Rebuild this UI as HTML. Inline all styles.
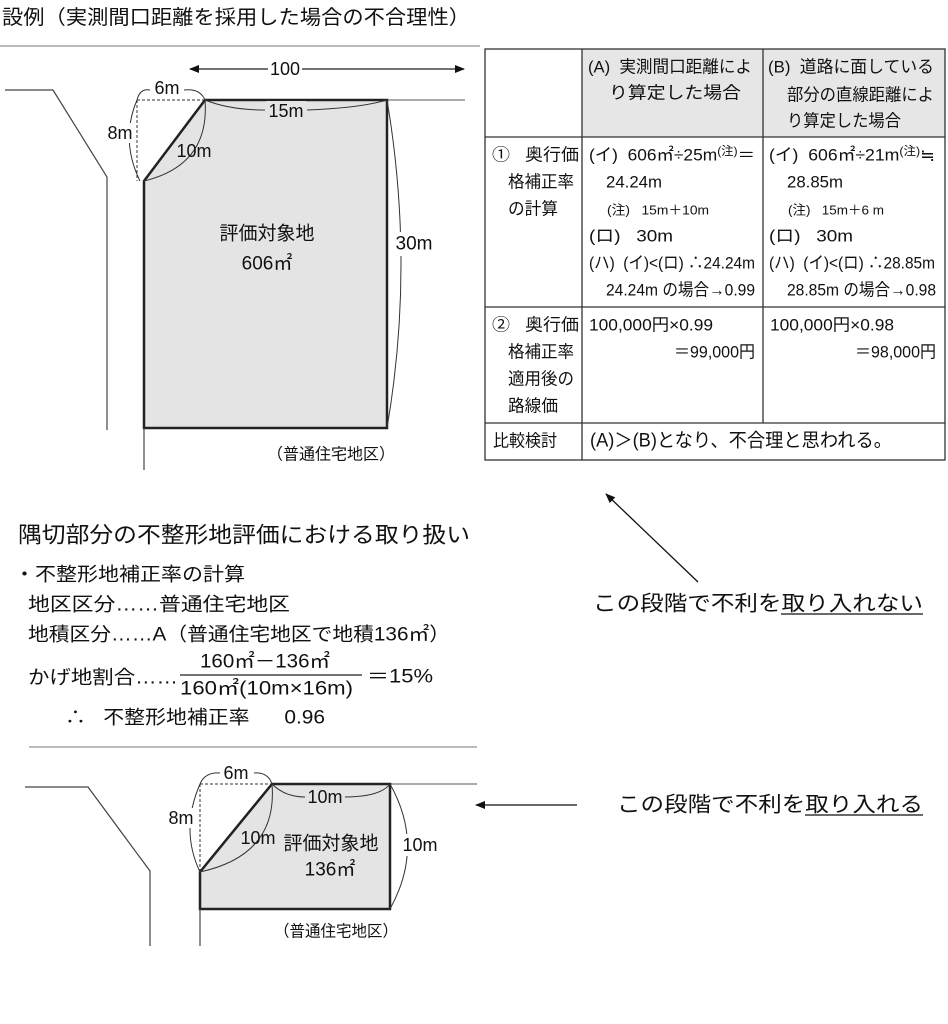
<!DOCTYPE html>
<html><head><meta charset="utf-8"><style>
html,body{margin:0;padding:0;background:#fff;}
svg{display:block;}
text{font-family:"Liberation Sans","Noto Sans CJK JP",sans-serif;fill:#111;dominant-baseline:central;}
</style></head><body>
<svg width="948" height="1024" viewBox="0 0 948 1024" xmlns="http://www.w3.org/2000/svg">
<defs>
<marker id="ah" markerWidth="10" markerHeight="10" refX="9" refY="5" orient="auto" markerUnits="userSpaceOnUse"><path d="M0,1 L10,5 L0,9 Z" fill="#111"/></marker>
</defs>
<!-- Title -->
<text x="2" y="18" font-size="20" textLength="468" lengthAdjust="spacingAndGlyphs">設例（実測間口距離を採用した場合の不合理性）</text>
<line x1="0" y1="46" x2="480" y2="46" stroke="#777" stroke-width="1"/>

<!-- Top diagram -->
<path d="M268,69 L190,69" stroke="#222" stroke-width="1.2" marker-end="url(#ah)"/>
<path d="M302,69 L464,69" stroke="#222" stroke-width="1.2" marker-end="url(#ah)"/>
<text x="285" y="69" font-size="18" text-anchor="middle">100</text>
<line x1="205" y1="100" x2="465" y2="100" stroke="#555" stroke-width="1"/>
<polyline points="5,90 53,90 107,177 107,430" fill="none" stroke="#444" stroke-width="1.2"/>
<polygon points="205,100 387,100 387,428 144,428 144,181" fill="#e4e4e4" stroke="#222" stroke-width="2.5"/>
<line x1="144" y1="428" x2="144" y2="470" stroke="#444" stroke-width="1.2"/>
<line x1="137" y1="100" x2="205" y2="100" stroke="#333" stroke-width="1" stroke-dasharray="3,2"/>
<line x1="137" y1="100" x2="137" y2="181" stroke="#333" stroke-width="1" stroke-dasharray="3,2"/>
<path d="M137,100 Q140,88 150,90 M184,90 Q200,88 205,100" fill="none" stroke="#333" stroke-width="1"/>
<path d="M137,100 Q120,140 140,181" fill="none" stroke="#333" stroke-width="1"/>
<path d="M205,100 Q210,165 144,181" fill="none" stroke="#333" stroke-width="1"/>
<path d="M205,100 Q230,110 265,110 M307,110 Q360,108 387,100" fill="none" stroke="#333" stroke-width="1"/>
<path d="M387,100 Q415,265 387,428" fill="none" stroke="#333" stroke-width="1"/>
<rect x="150" y="80" width="34" height="18" fill="#fff"/>
<text x="167" y="88" font-size="18" text-anchor="middle">6m</text>
<rect x="105" y="123" width="30" height="20" fill="#fff"/>
<text x="120" y="133" font-size="18" text-anchor="middle">8m</text>
<text x="194" y="151" font-size="18" text-anchor="middle">10m</text>
<rect x="266" y="101" width="40" height="18" fill="#e4e4e4"/>
<text x="286" y="111" font-size="18" text-anchor="middle">15m</text>
<rect x="394" y="232" width="40" height="24" fill="#fff"/>
<text x="414" y="244" font-size="19" text-anchor="middle">30m</text>
<text x="267" y="234" font-size="19" text-anchor="middle">評価対象地</text>
<text x="267" y="264" font-size="19" text-anchor="middle">606㎡</text>
<text x="331" y="455" font-size="16" text-anchor="middle" textLength="128" lengthAdjust="spacingAndGlyphs">（普通住宅地区）</text>

<!-- Table -->
<rect x="582" y="49" width="363" height="88" fill="#e6e6e6"/>
<g stroke="#333" stroke-width="1.3" fill="none">
<rect x="485" y="49" width="460" height="411"/>
<line x1="485" y1="137" x2="945" y2="137"/>
<line x1="485" y1="307" x2="945" y2="307"/>
<line x1="485" y1="423" x2="945" y2="423"/>
<line x1="582" y1="49" x2="582" y2="460"/>
<line x1="763" y1="49" x2="763" y2="423"/>
</g>
<g font-size="17" lengthAdjust="spacingAndGlyphs">
<text x="588" y="67" textLength="164" lengthAdjust="spacingAndGlyphs">(A)&#160; 実測間口距離によ</text>
<text x="609" y="93" textLength="132" lengthAdjust="spacingAndGlyphs">り算定した場合</text>
<text x="768" y="67" textLength="166" lengthAdjust="spacingAndGlyphs">(B)&#160; 道路に面している</text>
<text x="787" y="95" textLength="147" lengthAdjust="spacingAndGlyphs">部分の直線距離によ</text>
<text x="787" y="121" textLength="114" lengthAdjust="spacingAndGlyphs">り算定した場合</text>
<text x="492" y="155" textLength="87" lengthAdjust="spacingAndGlyphs">①&#160;&#160; 奥行価</text>
<text x="508" y="182" textLength="66" lengthAdjust="spacingAndGlyphs">格補正率</text>
<text x="508" y="209" textLength="50" lengthAdjust="spacingAndGlyphs">の計算</text>
<text x="589" y="155" textLength="166" lengthAdjust="spacingAndGlyphs">(イ)&#160; 606㎡÷25m<tspan font-size="12" dy="-4">(注)</tspan><tspan dy="4">＝</tspan></text>
<text x="606" y="182" textLength="56" lengthAdjust="spacingAndGlyphs">24.24m</text>
<text x="607" y="210" font-size="13" textLength="102" lengthAdjust="spacingAndGlyphs">(注)&#160;&#160; 15m＋10m</text>
<text x="589" y="236" textLength="84" lengthAdjust="spacingAndGlyphs">(ロ)&#160;&#160; 30m</text>
<text x="589" y="263" textLength="166" lengthAdjust="spacingAndGlyphs">(ハ)&#160; (イ)&lt;(ロ) ∴24.24m</text>
<text x="606" y="290" textLength="149" lengthAdjust="spacingAndGlyphs">24.24m の場合→0.99</text>
<text x="769" y="155" textLength="166" lengthAdjust="spacingAndGlyphs">(イ)&#160; 606㎡÷21m<tspan font-size="12" dy="-4">(注)</tspan><tspan dy="4">≒</tspan></text>
<text x="787" y="182" textLength="56" lengthAdjust="spacingAndGlyphs">28.85m</text>
<text x="788" y="210" font-size="13" textLength="96" lengthAdjust="spacingAndGlyphs">(注)&#160;&#160; 15m＋6 m</text>
<text x="769" y="236" textLength="84" lengthAdjust="spacingAndGlyphs">(ロ)&#160;&#160; 30m</text>
<text x="769" y="263" textLength="166" lengthAdjust="spacingAndGlyphs">(ハ)&#160; (イ)&lt;(ロ) ∴28.85m</text>
<text x="787" y="290" textLength="149" lengthAdjust="spacingAndGlyphs">28.85m の場合→0.98</text>
<text x="492" y="325" textLength="87" lengthAdjust="spacingAndGlyphs">②&#160;&#160; 奥行価</text>
<text x="508" y="352" textLength="66" lengthAdjust="spacingAndGlyphs">格補正率</text>
<text x="508" y="379" textLength="66" lengthAdjust="spacingAndGlyphs">適用後の</text>
<text x="508" y="406" textLength="50" lengthAdjust="spacingAndGlyphs">路線価</text>
<text x="589" y="325" textLength="124" lengthAdjust="spacingAndGlyphs">100,000円×0.99</text>
<text x="674" y="352" textLength="81" lengthAdjust="spacingAndGlyphs">＝99,000円</text>
<text x="770" y="325" textLength="124" lengthAdjust="spacingAndGlyphs">100,000円×0.98</text>
<text x="855" y="352" textLength="81" lengthAdjust="spacingAndGlyphs">＝98,000円</text>
<text x="493" y="441" textLength="64" lengthAdjust="spacingAndGlyphs">比較検討</text>
<text x="590" y="441" font-size="19" textLength="302" lengthAdjust="spacingAndGlyphs">(A)＞(B)となり、不合理と思われる。</text>
</g>

<!-- Right notes -->
<line x1="698" y1="582" x2="606" y2="494" stroke="#111" stroke-width="1.3" marker-end="url(#ah)"/>
<text x="593" y="604" font-size="21" textLength="330" lengthAdjust="spacingAndGlyphs">この段階で不利を取り入れない</text>
<line x1="781" y1="614" x2="923" y2="614" stroke="#111" stroke-width="1.3"/>
<line x1="577" y1="805" x2="476" y2="805" stroke="#111" stroke-width="1.3" marker-end="url(#ah)"/>
<text x="617" y="805" font-size="21" textLength="306" lengthAdjust="spacingAndGlyphs">この段階で不利を取り入れる</text>
<line x1="805" y1="815" x2="923" y2="815" stroke="#111" stroke-width="1.3"/>

<!-- Middle text -->
<text x="18" y="535" font-size="22" textLength="452" lengthAdjust="spacingAndGlyphs">隅切部分の不整形地評価における取り扱い</text>
<text x="14" y="575" font-size="19" textLength="231" lengthAdjust="spacingAndGlyphs">・不整形地補正率の計算</text>
<text x="28" y="605" font-size="19" textLength="262" lengthAdjust="spacingAndGlyphs">地区区分……普通住宅地区</text>
<text x="28" y="635" font-size="19" textLength="422" lengthAdjust="spacingAndGlyphs">地積区分……A（普通住宅地区で地積136㎡）</text>
<text x="28" y="678" font-size="19" textLength="150" lengthAdjust="spacingAndGlyphs">かげ地割合……</text>
<text x="200" y="662" font-size="19" textLength="130" lengthAdjust="spacingAndGlyphs">160㎡－136㎡</text>
<line x1="180" y1="675" x2="362" y2="675" stroke="#222" stroke-width="1.2"/>
<text x="180" y="689" font-size="19" textLength="173" lengthAdjust="spacingAndGlyphs">160㎡(10m×16m)</text>
<text x="367" y="677" font-size="19" textLength="66" lengthAdjust="spacingAndGlyphs">＝15%</text>
<text x="65" y="718" font-size="19" textLength="260" lengthAdjust="spacingAndGlyphs">∴&#160;&#160; 不整形地補正率&#160;&#160;&#160;&#160;&#160; 0.96</text>
<line x1="29" y1="747" x2="477" y2="747" stroke="#777" stroke-width="1"/>

<!-- Bottom diagram -->
<line x1="272" y1="784" x2="477" y2="784" stroke="#555" stroke-width="1"/>
<polyline points="25,787 88,787 150,871 150,946" fill="none" stroke="#444" stroke-width="1.2"/>
<polygon points="272,784 390,784 390,909 200,909 200,872" fill="#e4e4e4" stroke="#222" stroke-width="2.5"/>
<line x1="200" y1="909" x2="200" y2="946" stroke="#444" stroke-width="1.2"/>
<line x1="200" y1="784" x2="272" y2="784" stroke="#333" stroke-width="1" stroke-dasharray="3,2"/>
<line x1="200" y1="784" x2="200" y2="872" stroke="#333" stroke-width="1" stroke-dasharray="3,2"/>
<path d="M200,784 Q205,772 220,773 M254,773 Q268,772 272,784" fill="none" stroke="#333" stroke-width="1"/>
<path d="M200,784 Q180,830 200,872" fill="none" stroke="#333" stroke-width="1"/>
<path d="M272,784 Q278,855 200,872" fill="none" stroke="#333" stroke-width="1"/>
<path d="M272,784 Q285,797 305,797 M345,797 Q380,797 390,784" fill="none" stroke="#333" stroke-width="1"/>
<path d="M390,784 Q425,846 390,909" fill="none" stroke="#333" stroke-width="1"/>
<text x="236" y="773" font-size="18" text-anchor="middle">6m</text>
<rect x="168" y="808" width="26" height="20" fill="#fff"/>
<text x="181" y="818" font-size="18" text-anchor="middle">8m</text>
<text x="258" y="838" font-size="18" text-anchor="middle">10m</text>
<text x="325" y="797" font-size="18" text-anchor="middle">10m</text>
<rect x="401" y="834" width="38" height="22" fill="#fff"/>
<text x="420" y="845" font-size="18" text-anchor="middle">10m</text>
<text x="331" y="844" font-size="19" text-anchor="middle">評価対象地</text>
<text x="330" y="870" font-size="19" text-anchor="middle">136㎡</text>
<text x="336" y="932" font-size="16" text-anchor="middle" textLength="124" lengthAdjust="spacingAndGlyphs">（普通住宅地区）</text>
</svg>
</body></html>
